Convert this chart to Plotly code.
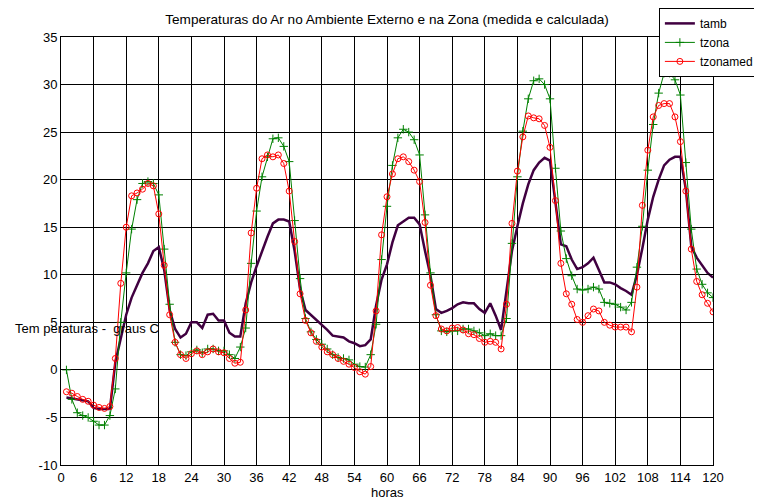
import plotly.graph_objects as go

hours = list(range(1, 121))

tamb = [-2.9, -3.0, -3.1, -3.2, -3.3, -4.0, -4.1, -4.1, -4.1, 0.8,
        3.4, 5.8, 7.6, 9.0, 10.2, 11.2, 12.5, 12.9, 10.5, 6.3,
        4.3, 3.4, 3.8, 5.0, 5.0, 4.4, 5.8, 5.9, 5.2, 5.2,
        3.9, 3.5, 3.5, 7.0, 9.2, 10.9, 12.5, 14.0, 15.4, 15.8,
        15.8, 15.6, 12.5, 8.5, 6.3, 5.8, 5.3, 4.8, 4.2, 3.6,
        3.5, 3.4, 3.0, 2.8, 2.5, 2.6, 3.2, 6.8, 9.5, 11.1,
        13.4, 15.2, 15.6, 16.0, 16.0, 15.3, 12.5, 9.9, 6.4, 6.0,
        6.2, 6.5, 6.9, 7.1, 7.0, 7.0, 6.4, 6.0, 7.0, 5.7,
        4.2, 8.5, 12.5, 15.1, 17.5, 19.5, 21.0, 21.8, 22.3, 22.0,
        17.6, 13.2, 13.0, 11.6, 10.6, 10.8, 11.2, 11.8, 10.5, 9.2,
        9.2, 9.0, 8.6, 8.3, 7.9, 10.0, 12.8, 15.8, 18.2, 20.0,
        21.5, 22.1, 22.4, 22.4, 19.0, 13.0, 11.8, 11.0, 10.2, 9.7]

tzona = [0.0, -3.1, -4.5, -4.8, -5.0, -5.4, -5.8, -5.8, -4.8, -2.0,
         5.0, 10.2, 14.8, 17.9, 19.6, 19.8, 19.6, 18.4, 12.7, 6.9,
         2.9, 1.6, 1.5, 1.9, 2.1, 1.8, 2.2, 2.2, 2.0, 2.0,
         1.6, 1.2, 2.4, 4.4, 11.2, 16.7, 20.3, 22.4, 24.3, 24.4,
         23.5, 21.9, 15.7, 9.6, 5.4, 4.0, 3.2, 2.7, 2.2, 1.6,
         1.3, 1.2, 1.05, 0.6, 0.35, 0.3, 1.6, 4.8, 11.6, 17.2,
         21.5, 24.4, 25.3, 25.0, 24.2, 22.6, 16.3, 10.2, 5.8, 4.1,
         4.0, 4.1, 4.1, 4.3, 4.3, 4.1, 3.9, 3.6, 3.8, 3.6,
         3.6, 5.4, 13.3, 20.3, 25.1, 28.5, 30.4, 30.6, 30.0, 28.5,
         21.2, 14.6, 11.7, 9.9, 8.5, 8.4, 8.5, 8.7, 8.5, 7.1,
         7.0, 6.9, 6.6, 6.3, 7.1, 10.8, 15.1, 21.0, 25.8, 29.1,
         31.2, 31.2, 30.5, 28.9, 21.8, 14.8, 10.6, 9.0, 8.1, 7.6]

tzonamed = [-2.3, -2.45, -2.8, -3.1, -3.3, -3.7, -3.95, -4.05, -3.85, 1.2,
            9.1, 15.0, 18.3, 18.6, 19.0, 19.6, 19.35, 16.4, 11.0, 5.8,
            2.9, 1.6, 1.2, 1.7, 2.0, 1.6, 1.9, 2.2, 1.9, 1.8,
            1.2, 0.7, 0.8, 6.3, 14.4, 19.1, 22.2, 22.6, 22.4, 22.6,
            21.7, 18.8, 13.5, 8.0, 5.2, 3.9, 3.0, 2.4, 1.9, 1.6,
            1.2, 0.9, 0.6, 0.25, -0.2, -0.45, 0.35, 6.2, 14.2, 18.2,
            20.6, 22.2, 22.4, 21.9, 21.0, 19.8, 15.5, 8.9, 5.7, 4.3,
            4.1, 4.4, 4.45, 4.2, 3.8, 3.7, 3.3, 2.9, 3.0, 2.9,
            2.2, 6.9, 15.4, 20.9, 24.5, 26.7, 26.5, 26.4, 25.7, 23.4,
            17.8, 11.2, 8.0, 6.9, 5.3, 5.0, 5.7, 6.4, 6.2, 5.0,
            4.7, 4.5, 4.5, 4.5, 4.0, 8.7, 17.3, 23.1, 26.6, 27.8,
            28.0, 28.0, 26.6, 24.0, 18.8, 12.7, 9.3, 7.9, 7.0, 6.1]

x_ticks = [0, 6, 12, 18, 24, 30, 36, 42, 48, 54, 60, 66, 72, 78, 84, 90, 96, 102, 108, 114, 120]
y_ticks = [-10, -5, 0, 5, 10, 15, 20, 25, 30, 35]
y_tick_labels = ["-10", "-5", "0", "5", "10", "15", "20", "25", "30", "35"]

FONT = "Liberation Sans, Arial, sans-serif"

# the page body adds an 8 px offset, so the figure is sized to fill the rest
OFF = 8
W, H = 762 - OFF, 501 - OFF

fig = go.Figure()
fig.add_trace(go.Scatter(x=hours, y=tamb, mode="lines", name="tamb",
                         line=dict(color="#400040", width=2.5)))
fig.add_trace(go.Scatter(x=hours, y=tzona, mode="lines+markers", name="tzona",
                         line=dict(color="#008000", width=1),
                         marker=dict(symbol="cross-thin", size=6,
                                     line=dict(color="#008000", width=1))))
fig.add_trace(go.Scatter(x=hours, y=tzonamed, mode="lines+markers", name="tzonamed",
                         line=dict(color="#FF0000", width=1),
                         marker=dict(symbol="circle-open", size=6,
                                     line=dict(color="#FF0000", width=1))))

axis_common = dict(showgrid=True, gridcolor="#000000", gridwidth=1,
                   showline=True, linecolor="#000000", linewidth=1, mirror="ticks",
                   ticks="inside", ticklen=5, tickcolor="#000000",
                   zeroline=False, tickfont=dict(family=FONT, size=13, color="#000000"))

fig.update_xaxes(range=[0, 120], tickvals=x_ticks, **axis_common)
fig.update_yaxes(range=[-10, 35], tickvals=y_ticks, ticktext=y_tick_labels, **axis_common)

fig.update_layout(
    width=W, height=H,
    margin=dict(l=61 - OFF, r=W - (61 - OFF) - 652, t=37 - OFF, b=H - (37 - OFF) - 428,
                autoexpand=False),
    paper_bgcolor="white", plot_bgcolor="white",
    font=dict(family=FONT, size=13, color="#000000"),
    title=dict(text="Temperaturas do Ar no Ambiente Externo e na Zona (medida e calculada)",
               x=0.5, xref="paper", xanchor="center",
               y=1 - (19 - OFF) / H, yref="container", yanchor="middle",
               font=dict(family=FONT, size=13.6, color="#000000")),
    legend=dict(x=0.917, y=1.068, xanchor="left", yanchor="top",
                bordercolor="#000000", borderwidth=1, bgcolor="white",
                font=dict(family=FONT, size=12, color="#000000"),
                tracegroupgap=0),
    showlegend=True,
)

fig.add_annotation(text="Tem peraturas -\u00a0\u00a0graus C", xref="paper", yref="y",
                   x=-0.0736, y=4.3, xanchor="left", yanchor="middle", showarrow=False,
                   font=dict(family=FONT, size=13, color="#000000"))
fig.add_annotation(text="horas", xref="paper", yref="paper",
                   x=0.5, y=(465 - 492) / 428, xanchor="center", yanchor="middle",
                   showarrow=False, font=dict(family=FONT, size=13, color="#000000"))

fig.write_html("out.html")
